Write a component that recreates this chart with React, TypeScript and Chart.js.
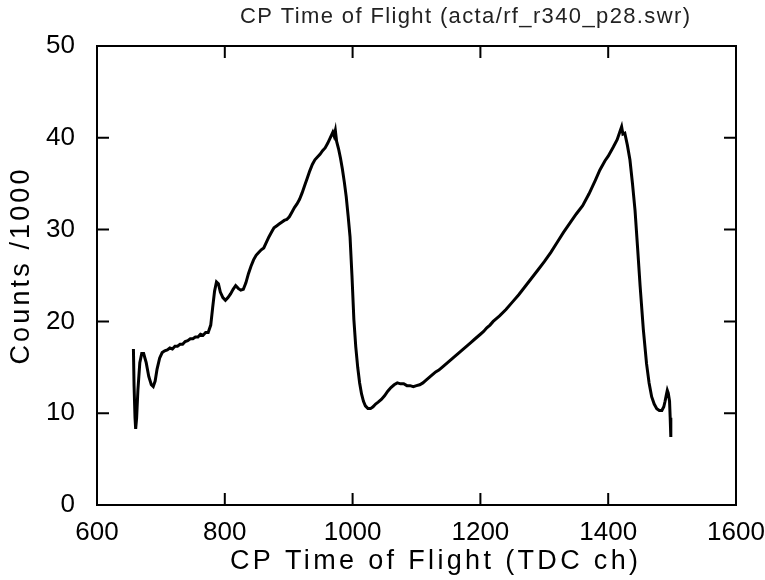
import React, { useEffect, useRef } from "react";
import { Chart, registerables } from "chart.js";
Chart.register(...registerables);

const chartTitle = "CP Time of Flight (acta/rf_r340_p28.swr)";
const xTitle = "CP Time of Flight (TDC ch)";
const yTitle = "Counts /1000";
const xTicks = [600, 800, 1000, 1200, 1400, 1600];
const yTicks = [0, 10, 20, 30, 40, 50];

// TDC channel
const tofChannels = [
  657, 658, 659.5, 660.5, 662, 664, 667, 670, 673, 677, 681, 685, 688, 691, 694, 698,
  702, 706, 710, 714, 718, 722, 726, 730, 734, 738, 742, 746, 750, 754, 758, 762,
  766, 770, 774, 778, 781, 784, 787, 790, 793, 797, 801, 805, 809, 813, 817, 821,
  825, 829, 833, 837, 841, 845, 849, 853, 857, 861, 865, 869, 873, 877, 881, 885,
  889, 893, 897, 901, 905, 909, 913, 917, 921, 925, 929, 933, 937, 941, 945, 949,
  953, 957, 961, 965, 969, 971, 973, 975, 978, 981, 984, 987, 990, 993, 996, 999,
  1002, 1005, 1008, 1011, 1014, 1017, 1020, 1024, 1028, 1032, 1036, 1040, 1045, 1050, 1055, 1060,
  1065, 1070, 1075, 1080, 1085, 1090, 1095, 1100, 1105, 1110, 1115, 1120, 1125, 1130, 1135, 1140,
  1145, 1150, 1155, 1160, 1165, 1170, 1175, 1180, 1185, 1190, 1195, 1200, 1205, 1210, 1215, 1220,
  1225, 1230, 1240, 1250, 1260, 1270, 1280, 1290, 1300, 1310, 1320, 1330, 1340, 1350, 1360, 1370,
  1380, 1387, 1395, 1400, 1408, 1414, 1418, 1421, 1423, 1426, 1430, 1434, 1438, 1442, 1446, 1450,
  1455, 1460, 1464, 1468, 1472, 1476, 1480, 1484, 1487, 1489, 1491, 1492.5, 1494, 1496, 1497, 1498,
];

// Counts / 1000
const countsK = [
  17.0, 13.0, 9.5, 8.3, 9.5, 12.5, 15.5, 16.5, 16.5, 15.5, 14.0, 13.1, 12.9, 13.5, 14.8, 16.0,
  16.6, 16.8, 16.9, 17.1, 17.0, 17.3, 17.3, 17.5, 17.5, 17.8, 17.9, 18.1, 18.1, 18.3, 18.3, 18.6,
  18.5, 18.8, 18.8, 19.6, 21.5, 23.3, 24.3, 24.1, 23.2, 22.6, 22.3, 22.6, 23.0, 23.5, 23.9, 23.6,
  23.4, 23.5, 24.2, 25.2, 26.0, 26.7, 27.2, 27.5, 27.8, 28.0, 28.6, 29.2, 29.7, 30.2, 30.4, 30.6,
  30.8, 31.0, 31.1, 31.4, 31.9, 32.4, 32.8, 33.3, 34.0, 34.8, 35.6, 36.4, 37.1, 37.6, 37.9, 38.2,
  38.6, 38.9, 39.4, 40.0, 40.6, 40.2, 40.8, 39.6, 38.8, 37.8, 36.6, 35.2, 33.6, 31.5, 29.2, 25.0,
  20.2, 17.2, 15.0, 13.3, 12.1, 11.3, 10.8, 10.5, 10.5, 10.7, 11.0, 11.2, 11.5, 11.9, 12.4, 12.8,
  13.1, 13.3, 13.2, 13.2, 13.0, 13.0, 12.9, 13.0, 13.1, 13.3, 13.6, 13.9, 14.2, 14.5, 14.7, 15.0,
  15.3, 15.6, 15.9, 16.2, 16.5, 16.8, 17.1, 17.4, 17.7, 18.0, 18.3, 18.6, 18.9, 19.3, 19.6, 20.0,
  20.3, 20.6, 21.3, 22.1, 22.9, 23.8, 24.7, 25.6, 26.5, 27.5, 28.6, 29.7, 30.7, 31.7, 32.6, 33.9,
  35.4, 36.5, 37.5, 38.0, 39.0, 39.8, 40.6, 41.2, 40.4, 40.5, 39.2, 37.6, 35.0, 32.1, 28.0, 23.8,
  19.1, 15.4, 13.3, 11.8, 11.0, 10.5, 10.3, 10.3, 10.7, 11.3, 12.0, 12.5, 12.2, 11.3, 9.5, 7.4,
];

const FONT = "'Liberation Sans', Arial, sans-serif";

function spacedText(ctx: CanvasRenderingContext2D, text: string, x: number, y: number, target: number) {
  (ctx as any).letterSpacing = "0px";
  const w = ctx.measureText(text).width;
  const ls = Math.max(0, (target - w) / Math.max(1, text.length - 1));
  (ctx as any).letterSpacing = ls + "px";
  ctx.fillText(text, x + ls / 2, y);
  (ctx as any).letterSpacing = "0px";
}

const framePlugin = {
  id: "framePlugin",
  afterDraw(chart: any) {
    const { ctx, chartArea: a, scales } = chart;
    ctx.save();
    ctx.strokeStyle = "#000";
    ctx.lineWidth = 2;
    ctx.strokeRect(a.left, a.top, a.right - a.left, a.bottom - a.top);
    const L = 12;
    ctx.beginPath();
    xTicks.slice(1, -1).forEach((v) => {
      const px = scales.x.getPixelForValue(v);
      ctx.moveTo(px, a.bottom);
      ctx.lineTo(px, a.bottom - L);
      ctx.moveTo(px, a.top);
      ctx.lineTo(px, a.top + L);
    });
    yTicks.slice(1, -1).forEach((v) => {
      const py = scales.y.getPixelForValue(v);
      ctx.moveTo(a.left, py);
      ctx.lineTo(a.left + L, py);
      ctx.moveTo(a.right, py);
      ctx.lineTo(a.right - L, py);
    });
    ctx.stroke();

    ctx.textAlign = "center";
    ctx.textBaseline = "middle";
    ctx.fillStyle = "#222";
    ctx.font = `22px ${FONT}`;
    spacedText(ctx, chartTitle, 465, 17, 450);

    ctx.fillStyle = "#000";
    ctx.font = `27px ${FONT}`;
    spacedText(ctx, xTitle, 434, 562, 408);

    ctx.translate(22, 267);
    ctx.rotate(-Math.PI / 2);
    spacedText(ctx, yTitle, 0, 0, 195);
    ctx.restore();
  },
};

export default function App() {
  const ref = useRef<HTMLCanvasElement>(null);
  useEffect(() => {
    if (!ref.current) return;
    const points = tofChannels.map((x, i) => ({ x, y: countsK[i] }));
    const chart = new Chart(ref.current, {
      type: "line",
      data: {
        datasets: [
          {
            data: points,
            borderColor: "#000",
            borderWidth: 3,
            pointRadius: 0,
            tension: 0,
            fill: false,
          },
        ],
      },
      options: {
        animation: false,
        responsive: true,
        maintainAspectRatio: false,
        layout: { padding: { left: 0, right: 29, top: 46, bottom: 0 } },
        plugins: { legend: { display: false }, tooltip: { enabled: false }, title: { display: false } },
        scales: {
          x: {
            type: "linear",
            min: 600,
            max: 1600,
            afterFit: (s: any) => { s.height = 75; s.paddingLeft = 0; s.paddingRight = 0; },
            afterBuildTicks: (s: any) => { s.ticks = xTicks.map((v) => ({ value: v })); },
            grid: { display: false, drawTicks: false },
            border: { display: false },
            ticks: {
              color: "#000",
              font: { family: FONT, size: 26 },
              padding: 12,
              maxRotation: 0,
              autoSkip: false,
              callback: (v: any) => String(v),
            },
          },
          y: {
            type: "linear",
            min: 0,
            max: 50,
            afterFit: (s: any) => { s.width = 97; s.paddingTop = 0; s.paddingBottom = 0; },
            afterBuildTicks: (s: any) => { s.ticks = yTicks.map((v) => ({ value: v })); },
            grid: { display: false, drawTicks: false },
            border: { display: false },
            ticks: { color: "#000", font: { family: FONT, size: 26 }, padding: 22, callback: (v: any) => String(v) },
          },
        },
      },
      plugins: [framePlugin],
    });
    return () => chart.destroy();
  }, []);
  return (
    <div style={{ position: "fixed", left: 0, top: 0, width: 765, height: 580, background: "#fff" }}>
      <canvas ref={ref} />
    </div>
  );
}
